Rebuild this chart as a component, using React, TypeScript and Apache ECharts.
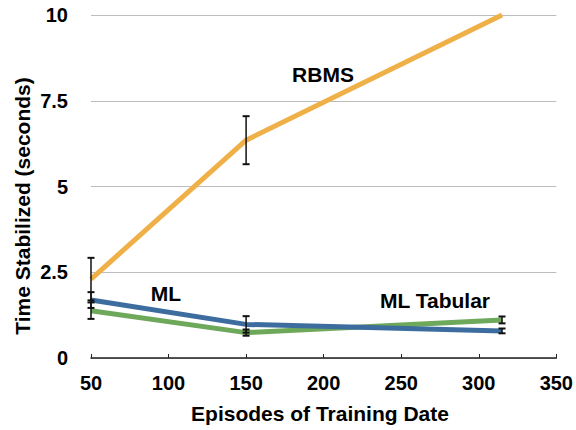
import { useEffect, useRef } from "react";
import * as echarts from "echarts";

const episodes = [50, 150, 315];
const rbms = [2.3, 6.35, 10];
const rbmsErr = [0.62, 0.7, 0];
const ml = [1.69, 0.98, 0.79];
const mlErr = [0.23, 0.24, 0.07];
const mlTabular = [1.38, 0.74, 1.11];
const mlTabularErr = [0.24, 0.09, 0.1];

const FONT = "'Liberation Sans', Arial, Helvetica, sans-serif";

function pairs(vals: number[]) {
  return episodes.map((x, i) => [x, vals[i]]);
}
function errData(vals: number[], errs: number[]) {
  return episodes
    .map((x, i) => [x, vals[i] - errs[i], vals[i] + errs[i]])
    .filter((d, i) => errs[i] > 0);
}

function errorSeries(name: string, data: number[][]) {
  return {
    type: "custom",
    name,
    data,
    z: 10,
    renderItem: (params: any, api: any) => {
      const x = api.value(0);
      const lo = api.coord([x, api.value(1)]);
      const hi = api.coord([x, api.value(2)]);
      const w = 3.5;
      const style = { stroke: "#111", lineWidth: 1.5 };
      return {
        type: "group",
        children: [
          { type: "line", shape: { x1: lo[0], y1: lo[1], x2: hi[0], y2: hi[1] }, style },
          { type: "line", shape: { x1: lo[0] - w, y1: lo[1], x2: lo[0] + w, y2: lo[1] }, style: { stroke: "#111", lineWidth: 2 } },
          { type: "line", shape: { x1: hi[0] - w, y1: hi[1], x2: hi[0] + w, y2: hi[1] }, style: { stroke: "#111", lineWidth: 2 } },
        ],
      };
    },
  };
}

function lineSeries(name: string, vals: number[], color: string) {
  return {
    type: "line",
    name,
    data: pairs(vals),
    symbol: "none",
    lineStyle: { color, width: 5, cap: "butt", join: "round" },
    z: 5,
  };
}

const titleFont = `bold 21px ${FONT}`;

export default function App() {
  const ref = useRef<HTMLDivElement>(null);
  useEffect(() => {
    if (!ref.current) return;
    const chart = echarts.init(ref.current, null, { renderer: "svg" });
    chart.setOption({
      animation: false,
      backgroundColor: "#ffffff",
      grid: { left: 91, right: 18, top: 15, bottom: 72 },
      xAxis: {
        type: "value",
        min: 50,
        max: 350,
        interval: 50,
        axisLine: { show: true, lineStyle: { color: "#222", width: 1.5 } },
        axisTick: { show: true, inside: true, length: 4, lineStyle: { color: "#222", width: 1 } },
        splitLine: { show: false },
        axisLabel: { color: "#000", fontSize: 20, fontWeight: "bold", fontFamily: FONT, margin: 15 },
      },
      yAxis: {
        type: "value",
        min: 0,
        max: 10,
        interval: 2.5,
        axisLine: { show: false },
        axisTick: { show: false },
        splitLine: { show: true, lineStyle: { color: "#bdbdbd", width: 1 } },
        axisLabel: { color: "#000", fontSize: 20, fontWeight: "bold", fontFamily: FONT, margin: 23 },
      },
      graphic: [
        {
          type: "text",
          x: 320,
          y: 413,
          style: { text: "Episodes of Training Date", font: titleFont, fill: "#000", align: "center", verticalAlign: "middle" },
        },
        {
          type: "text",
          x: 22,
          y: 206,
          rotation: Math.PI / 2,
          style: { text: "Time Stabilized (seconds)", font: titleFont, fill: "#000", align: "center", verticalAlign: "middle" },
        },
        {
          type: "text",
          x: 323,
          y: 74,
          style: { text: "RBMS", font: titleFont, fill: "#000", align: "center", verticalAlign: "middle" },
        },
        {
          type: "text",
          x: 166,
          y: 293,
          style: { text: "ML", font: titleFont, fill: "#000", align: "center", verticalAlign: "middle" },
        },
        {
          type: "text",
          x: 435,
          y: 300,
          style: { text: "ML Tabular", font: titleFont, fill: "#000", align: "center", verticalAlign: "middle" },
        },
      ],
      series: [
        lineSeries("RBMS", rbms, "#efb047"),
        lineSeries("ML Tabular", mlTabular, "#6ea85a"),
        lineSeries("ML", ml, "#3d6d9e"),
        errorSeries("RBMS err", errData(rbms, rbmsErr)),
        errorSeries("ML Tabular err", errData(mlTabular, mlTabularErr)),
        errorSeries("ML err", errData(ml, mlErr)),
      ],
    });
    return () => chart.dispose();
  }, []);
  return <div ref={ref} style={{ position: "fixed", left: 0, top: 0, width: 576, height: 430 }} />;
}
